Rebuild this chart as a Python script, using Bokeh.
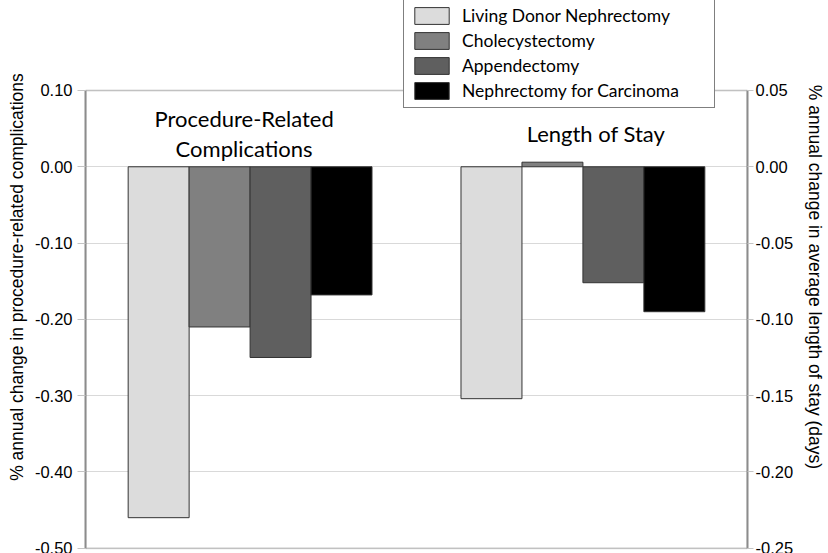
from bokeh.plotting import figure
from bokeh.models import (ColumnDataSource, FactorRange, Range1d, LinearAxis, FixedTicker,
                          PrintfTickFormatter, Legend, LegendItem, BoxAnnotation)
from bokeh.transform import factor_cmap
from bokeh.core.properties import value
from bokeh.embed import file_html
from bokeh.resources import INLINE

# ---- data ----
groups = ["Procedure-Related Complications", "Length of Stay"]
group_titles = ["Procedure-Related\nComplications", "Length of Stay"]
procedures = ["Living Donor Nephrectomy", "Cholecystectomy", "Appendectomy",
              "Nephrectomy for Carcinoma"]
complications = [-0.46, -0.21, -0.25, -0.168]
length_of_stay = [-0.152, 0.003, -0.076, -0.095]
colors = ["#dcdcdc", "#808080", "#5f5f5f", "#000000"]
left_ticks = [-0.5, -0.4, -0.3, -0.2, -0.1, 0.0, 0.1]
right_ticks = [-0.25, -0.2, -0.15, -0.1, -0.05, 0.0, 0.05]
left_bounds = (-0.5, 0.1)
right_bounds = (-0.25, 0.05)
left_label = "% annual change in procedure-related complications"
right_label = "% annual change in average length of stay (days)"

# visible plot box is left_bounds; the frame extends above it so the legend can overlap it
x_range = FactorRange(factors=[(g, pr) for g in groups for pr in procedures],
                      factor_padding=0, group_padding=1.46,
                      range_padding=0.7, range_padding_units="absolute")
y_left = Range1d(-0.50695, 0.21796)
y_right = Range1d(-0.253475, 0.10898)

p = figure(width=828, height=553, x_range=x_range, y_range=y_left,
           x_axis_location=None, y_axis_location="left",
           output_backend="svg", toolbar_location=None,
           min_border_left=85, min_border_right=81, min_border_top=0, min_border_bottom=0)
p.extra_y_ranges = {"los": y_right}
p.background_fill_color = "white"
p.border_fill_color = "white"
p.outline_line_color = None

for g in p.xgrid:
    g.visible = False
p.ygrid.ticker = FixedTicker(ticks=left_ticks)
p.ygrid.grid_line_color = "#d9d9d9"
p.ygrid.grid_line_width = 1

yl = p.yaxis[0]
yl.ticker = FixedTicker(ticks=left_ticks)
yl.bounds = left_bounds
yl.axis_label = left_label
yl.axis_label_standoff = 5
yl.major_tick_out = 8
yl.major_label_standoff = 5

yr = LinearAxis(y_range_name="los", ticker=FixedTicker(ticks=right_ticks),
                bounds=right_bounds, axis_label=right_label, axis_label_standoff=9)
yr.major_tick_out = 6
yr.major_label_standoff = 2
p.add_layout(yr, "right")

for ax in (yl, yr):
    ax.formatter = PrintfTickFormatter(format="%.2f")
    ax.axis_line_color = "#8c8c8c"
    ax.axis_line_width = 2
    ax.minor_tick_line_color = None
    ax.major_tick_in = 0
    ax.major_tick_line_color = "#c4c4c4"
    ax.major_label_text_font = "Liberation Sans"
    ax.major_label_text_font_size = "16.5px"
    ax.major_label_text_color = "black"
    ax.axis_label_text_font = "Liberation Sans"
    ax.axis_label_text_font_size = "17.5px"
    ax.axis_label_text_font_style = "normal"
    ax.axis_label_text_color = "black"

# plot box border (top / bottom edges)
p.add_layout(BoxAnnotation(top=left_bounds[1], bottom=left_bounds[0], fill_alpha=0,
                           line_color="#8c8c8c", line_width=2, level="underlay"))

comp_src = ColumnDataSource(dict(x=[(groups[0], pr) for pr in procedures],
                                 procedure=procedures, value=complications))
los_src = ColumnDataSource(dict(x=[(groups[1], pr) for pr in procedures],
                                procedure=procedures, value=length_of_stay))
cmap = factor_cmap("procedure", palette=colors, factors=procedures)

r1 = p.vbar(x="x", top="value", width=1.0, source=comp_src, fill_color=cmap,
            line_color="#333333", line_width=1)
r2 = p.vbar(x="x", top="value", width=1.0, source=los_src, fill_color=cmap,
            line_color="#333333", line_width=1, y_range_name="los")

p.text(x=[groups[0]], y=[0.044], text=[group_titles[0]], text_align="center",
       text_baseline="middle", text_font=value("Lato"), text_font_size="22px",
       text_line_height=1.12, x_offset=-6, text_color="black")
p.text(x=[groups[1]], y=[0.044], text=[group_titles[1]], text_align="center",
       text_baseline="middle", text_font=value("Lato"), text_font_size="22px",
       x_offset=13, text_color="black")

legend = Legend(items=[LegendItem(label=pr, renderers=[r1], index=i)
                       for i, pr in enumerate(procedures)],
                location=(318, 445))
legend.border_line_color = "black"
legend.border_line_width = 1
legend.background_fill_color = "white"
legend.background_fill_alpha = 1
legend.padding = 6
legend.spacing = 4
legend.margin = 0
legend.glyph_width = 43
legend.glyph_height = 21
legend.label_height = 21
legend.label_width = 246
legend.label_standoff = 9
legend.label_text_font = "Lato"
legend.label_text_font_size = "17.5px"
legend.label_text_color = "black"
p.add_layout(legend)

open("out.html", "w").write(file_html(p, INLINE))
